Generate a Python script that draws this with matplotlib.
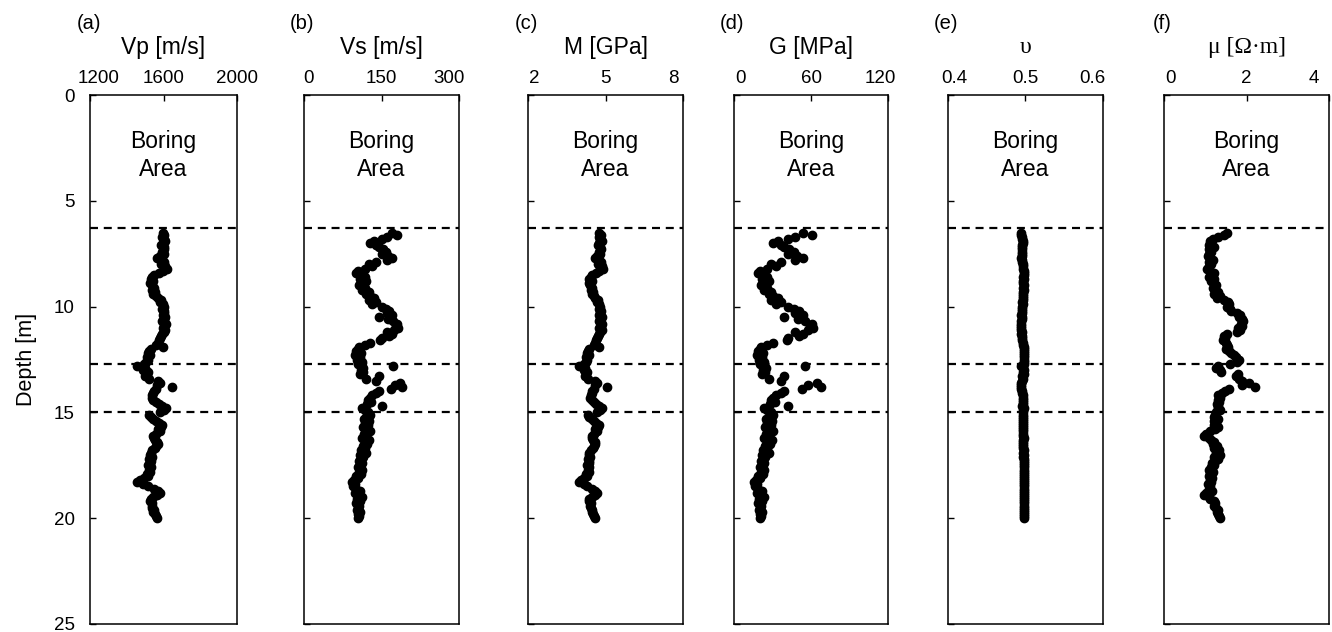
import numpy as np
import matplotlib

matplotlib.use('Agg')
import matplotlib.pyplot as plt
from matplotlib.transforms import ScaledTranslation

plt.rcParams['font.family'] = ['Liberation Sans', 'DejaVu Sans']
plt.rcParams['xtick.direction'] = 'in'
plt.rcParams['ytick.direction'] = 'in'
plt.rcParams['axes.linewidth'] = 1.1

# sampling depths [m], 6.5 m to 20.0 m every 0.1 m
depth = np.round(np.arange(65, 201) / 10.0, 1)

vp = [1595, 1605, 1590, 1600, 1610, 1595, 1585, 1600, 1605, 1590,
      1600, 1580, 1565, 1590, 1605, 1585, 1610, 1620, 1595, 1575,
      1550, 1540, 1530, 1545, 1525, 1535, 1550, 1540, 1555, 1545,
      1560, 1570, 1585, 1580, 1595, 1600, 1590, 1605, 1600, 1595,
      1610, 1600, 1590, 1615, 1605, 1595, 1610, 1600, 1590, 1585,
      1580, 1575, 1570, 1560, 1595, 1530, 1520, 1515, 1525, 1510,
      1515, 1505, 1495, 1455, 1500, 1490, 1515, 1510, 1500, 1520,
      1570, 1580, 1565, 1645, 1560, 1550, 1545, 1540, 1535, 1545,
      1560, 1575, 1590, 1615, 1600, 1580, 1520, 1530, 1545, 1560,
      1575, 1590, 1585, 1570, 1580, 1560, 1545, 1550, 1555, 1565,
      1570, 1560, 1555, 1540, 1530, 1525, 1535, 1520, 1530, 1525,
      1515, 1530, 1520, 1525, 1510, 1515, 1495, 1470, 1455, 1490,
      1515, 1550, 1570, 1580, 1565, 1545, 1530, 1525, 1540, 1535,
      1540, 1550, 1545, 1555, 1560, 1565]

vs = [170, 180, 160, 150, 135, 128, 140, 145, 152, 158,
      150, 162, 170, 160, 140, 125, 132, 118, 105, 100,
      112, 118, 108, 120, 114, 106, 118, 112, 125, 120,
      128, 135, 125, 140, 132, 150, 158, 165, 160, 170,
      145, 163, 172, 180, 178, 182, 175, 160, 170, 165,
      150, 148, 128, 118, 106, 104, 100, 110, 98, 108,
      102, 112, 105, 172, 115, 110, 114, 108, 145, 120,
      140, 186, 176, 190, 168, 145, 140, 132, 128, 124,
      130, 122, 150, 112, 118, 124, 128, 120, 116, 126,
      118, 124, 114, 122, 128, 116, 120, 112, 126, 118,
      122, 114, 118, 110, 120, 108, 114, 110, 106, 112,
      108, 104, 112, 106, 110, 100, 104, 96, 92, 98,
      94, 100, 108, 98, 104, 112, 102, 108, 100, 106,
      104, 102, 108, 104, 106, 104]

m_gpa = [4.76, 4.82, 4.73, 4.79, 4.85, 4.76, 4.70, 4.79, 4.82, 4.73,
         4.79, 4.67, 4.58, 4.73, 4.82, 4.70, 4.85, 4.91, 4.76, 4.64,
         4.49, 4.43, 4.38, 4.46, 4.35, 4.41, 4.49, 4.43, 4.52, 4.46,
         4.55, 4.61, 4.70, 4.67, 4.76, 4.79, 4.73, 4.82, 4.79, 4.76,
         4.85, 4.79, 4.73, 4.88, 4.82, 4.76, 4.85, 4.79, 4.73, 4.70,
         4.67, 4.64, 4.61, 4.55, 4.76, 4.38, 4.32, 4.29, 4.35, 4.26,
         4.29, 4.24, 4.18, 3.96, 4.21, 4.15, 4.29, 4.26, 4.21, 4.32,
         4.61, 4.67, 4.58, 5.06, 4.55, 4.49, 4.46, 4.43, 4.41, 4.46,
         4.55, 4.64, 4.73, 4.88, 4.79, 4.67, 4.32, 4.38, 4.46, 4.55,
         4.64, 4.73, 4.70, 4.61, 4.67, 4.55, 4.46, 4.49, 4.52, 4.58,
         4.61, 4.55, 4.52, 4.43, 4.38, 4.35, 4.41, 4.32, 4.38, 4.35,
         4.29, 4.38, 4.32, 4.35, 4.26, 4.29, 4.18, 4.04, 3.96, 4.15,
         4.29, 4.49, 4.61, 4.67, 4.58, 4.46, 4.38, 4.35, 4.43, 4.41,
         4.43, 4.49, 4.46, 4.52, 4.55, 4.58]

g_mpa = [54.0, 60.6, 47.9, 42.1, 34.1, 30.6, 36.7, 39.3, 43.2, 46.7,
         42.1, 49.1, 54.0, 47.9, 36.7, 29.2, 32.6, 26.0, 20.6, 18.7,
         23.5, 26.0, 21.8, 26.9, 24.3, 21.0, 26.0, 23.5, 29.2, 26.9,
         30.6, 34.1, 29.2, 36.7, 32.6, 42.1, 46.7, 50.9, 47.9, 54.0,
         39.3, 49.7, 55.3, 60.6, 59.3, 61.9, 57.3, 47.9, 54.0, 50.9,
         42.1, 41.0, 30.6, 26.0, 21.0, 20.2, 18.7, 22.6, 18.0, 21.8,
         19.5, 23.5, 20.6, 55.3, 24.7, 22.6, 24.3, 21.8, 39.3, 26.9,
         36.7, 64.7, 57.9, 67.5, 52.8, 39.3, 36.7, 32.6, 30.6, 28.8,
         31.6, 27.8, 42.1, 23.5, 26.0, 28.8, 30.6, 26.9, 25.2, 29.7,
         26.0, 28.8, 24.3, 27.8, 30.6, 25.2, 26.9, 23.5, 29.7, 26.0,
         27.8, 24.3, 26.0, 22.6, 26.9, 21.8, 24.3, 22.6, 21.0, 23.5,
         21.8, 20.2, 23.5, 21.0, 22.6, 18.7, 20.2, 17.2, 15.8, 18.0,
         16.5, 18.7, 21.8, 18.0, 20.2, 23.5, 19.5, 21.8, 18.7, 21.0,
         20.2, 19.5, 21.8, 20.2, 21.0, 20.2]

nu = [0.4945, 0.494, 0.495, 0.496, 0.4965, 0.4965, 0.496, 0.496, 0.496, 0.495,
      0.496, 0.495, 0.4945, 0.495, 0.496, 0.497, 0.4965, 0.497, 0.4975, 0.498,
      0.4975, 0.497, 0.4975, 0.497, 0.497, 0.4975, 0.497, 0.4975, 0.497, 0.497,
      0.4965, 0.4965, 0.497, 0.496, 0.4965, 0.496, 0.495, 0.495, 0.495, 0.4945,
      0.496, 0.495, 0.4945, 0.494, 0.494, 0.494, 0.4945, 0.495, 0.4945, 0.495,
      0.496, 0.496, 0.4965, 0.497, 0.4975, 0.4975, 0.498, 0.4975, 0.498, 0.4975,
      0.4975, 0.4975, 0.4975, 0.4945, 0.497, 0.4975, 0.497, 0.4975, 0.496, 0.497,
      0.496, 0.494, 0.4945, 0.494, 0.4945, 0.496, 0.496, 0.4965, 0.4965, 0.497,
      0.4965, 0.497, 0.496, 0.4975, 0.497, 0.497, 0.4965, 0.497, 0.497, 0.497,
      0.497, 0.497, 0.497, 0.497, 0.4965, 0.497, 0.497, 0.4975, 0.497, 0.497,
      0.497, 0.497, 0.497, 0.4975, 0.497, 0.4975, 0.497, 0.4975, 0.4975, 0.4975,
      0.4975, 0.4975, 0.4975, 0.4975, 0.4975, 0.498, 0.4975, 0.498, 0.498, 0.498,
      0.498, 0.498, 0.4975, 0.498, 0.4975, 0.4975, 0.4975, 0.4975, 0.498, 0.4975,
      0.4975, 0.4975, 0.4975, 0.4975, 0.4975, 0.4975]

mu = [1.52, 1.45, 1.30, 1.18, 1.12, 1.15, 1.10, 1.20, 1.08, 1.14,
      1.10, 1.06, 1.12, 1.18, 1.08, 1.14, 1.10, 1.04, 1.12, 1.20,
      1.16, 1.10, 1.22, 1.14, 1.20, 1.26, 1.18, 1.24, 1.30, 1.22,
      1.35, 1.28, 1.45, 1.55, 1.58, 1.52, 1.60, 1.62, 1.78, 1.85,
      1.82, 1.88, 1.92, 1.86, 1.90, 1.80, 1.84, 1.76, 1.52, 1.45,
      1.48, 1.44, 1.50, 1.52, 1.55, 1.50, 1.58, 1.62, 1.70, 1.75,
      1.82, 1.78, 1.60, 1.30, 1.25, 1.35, 1.38, 1.80, 1.75, 1.82,
      1.90, 2.05, 1.88, 2.20, 1.58, 1.48, 1.40, 1.32, 1.36, 1.30,
      1.34, 1.28, 1.32, 1.30, 1.36, 1.26, 1.24, 1.20, 1.30, 1.22,
      1.26, 1.20, 1.30, 1.24, 1.12, 1.02, 0.98, 1.08, 1.15, 1.22,
      1.18, 1.28, 1.22, 1.34, 1.26, 1.36, 1.20, 1.30, 1.24, 1.16,
      1.22, 1.14, 1.10, 1.18, 1.12, 1.08, 1.16, 1.12, 1.14, 1.06,
      1.12, 1.10, 1.16, 1.02, 0.98, 1.08, 1.12, 1.20, 1.24, 1.22,
      1.26, 1.30, 1.28, 1.32, 1.34, 1.36]

series = [vp, vs, m_gpa, g_mpa, nu, mu]
letters = ['(a)', '(b)', '(c)', '(d)', '(e)', '(f)']
titles = ['Vp [m/s]', 'Vs [m/s]', 'M [GPa]', 'G [MPa]', 'υ', 'μ [Ω·m]']
xlims = [(1200, 2000), (0, 300), (2, 8), (0, 120), (0.4, 0.6), (0, 4)]
xticks = [[1200, 1600, 2000], [0, 150, 300], [2, 5, 8],
          [0, 60, 120], [0.4, 0.5, 0.6], [0, 2, 4]]
xticklabels = [['1200', '1600', '2000'], ['0', '150', '300'], ['2', '5', '8'],
               ['0', '60', '120'], ['0.4', '0.5', '0.6'], ['0', '2', '4']]
layer_depths = [6.3, 12.7, 15.0]
depth_ticks = [0, 5, 10, 15, 20, 25]

# panel edges in pixels (left, right), figure is 1332 x 632
W, H = 1332, 632
panel_px = [(90, 237), (304, 459), (528, 683), (734, 888), (948, 1103), (1164, 1329)]
top_px, bot_px = 95, 624
# the end tick labels sit a little inside the box in the original
label_shift = [(9, 0), (5, -10), (6, -10), (6, -8), (6, -11), (6, -15)]


def main():
    fig = plt.figure(figsize=(W / 100, H / 100), dpi=100, facecolor='w')

    for i in range(6):
        l, r = panel_px[i]
        ax = fig.add_axes([l / W, (H - bot_px) / H, (r - l) / W, (bot_px - top_px) / H])

        for d in layer_depths:
            ax.axhline(d, color='k', lw=1.6, ls=(0, (3.6, 2.6)), zorder=1)

        ax.plot(series[i], depth, 'o', color='k', ms=6, mec='k', zorder=2)

        ax.set_xlim(*xlims[i])
        ax.set_ylim(25, 0)
        ax.xaxis.tick_top()
        ax.set_xticks(xticks[i])
        ax.set_xticklabels(xticklabels[i])
        ax.set_yticks(depth_ticks)
        ax.tick_params(axis='x', labelsize=13.5, pad=6, length=4, width=1)
        ax.tick_params(axis='y', labelsize=13.5, pad=11, length=4, width=1)
        if i > 0:
            ax.set_yticklabels([])

        labs = ax.get_xticklabels()
        for lab, dx in zip([labs[0], labs[-1]], label_shift[i]):
            lab.set_transform(lab.get_transform() +
                              ScaledTranslation(dx / 100, 0, fig.dpi_scale_trans))

        xm = sum(xlims[i]) / 2
        ax.text(xm, 2.85, 'Boring\nArea', ha='center', va='center',
                fontsize=16.5, linespacing=1.25)

        if i >= 4:
            ax.text(0.5, 1.09, titles[i], transform=ax.transAxes, ha='center',
                    va='center', fontsize=17, family=['Liberation Serif', 'DejaVu Serif'])
        else:
            ax.text(0.5, 1.09, titles[i], transform=ax.transAxes, ha='center',
                    va='center', fontsize=16.5)
        ax.text(-0.01, 1.135, letters[i], transform=ax.transAxes, ha='center',
                va='center', fontsize=14.5)

        if i == 0:
            ax.set_ylabel('Depth [m]', fontsize=15.5, labelpad=12)

    fig.savefig('out.png', dpi=100, facecolor='w')


if __name__ == '__main__':
    main()
